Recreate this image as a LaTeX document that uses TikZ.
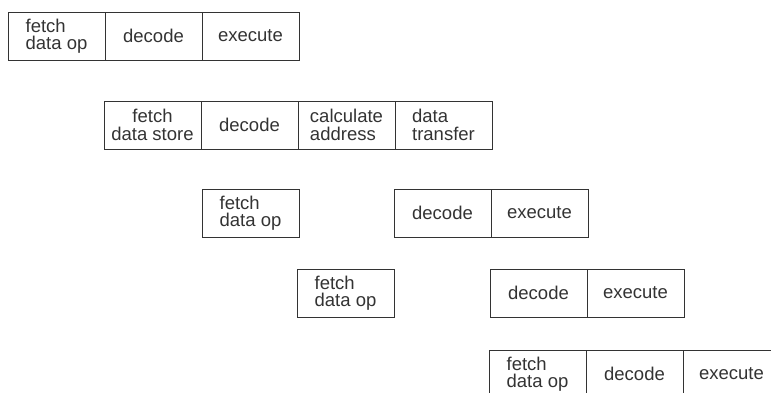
\documentclass[tikz,border=0pt]{standalone}
\usepackage{fontspec}
\setmainfont{Liberation Sans}
\usetikzlibrary{positioning}
\definecolor{inkgray}{HTML}{333333}

\begin{document}
\begin{tikzpicture}[x=1pt, y=-1pt,
                font=\fontsize{18.5}{17.5}\selectfont,
                stage/.style={rectangle, draw=inkgray, line width=0.9pt, text=inkgray,
                              minimum width=97pt, minimum height=48pt,
                              inner sep=0pt, outer sep=0pt, align=left},
                first/.style={stage, anchor=north west}
                ]

                \useasboundingbox (0,0) rectangle (771,393);
                \clip (0,0) rectangle (771,393);

                % Row 1
                \node[first] (ldr_fetch) at (8,12) {fetch\\data op};
                \node[stage] (ldr_dec) [right=0pt of ldr_fetch] {decode};
                \node[stage] (ldr_exe) [right=0pt of ldr_dec] {execute};

                % Row 2
                \node[first, align=center] (str_fetch) at (104,101) {fetch\\data store};
                \node[stage] (str_dec) [right=0pt of str_fetch] {decode};
                \node[stage] (str_addr) [right=0pt of str_dec] {calculate\\address};
                \node[stage] (str_xfer) [right=0pt of str_addr] {data\\transfer};

                % Row 3
                \node[first] (op3_fetch) at (202,189) {fetch\\data op};
                \node[first] (op3_dec) at (394,189) {decode};
                \node[stage] (op3_exe) [right=0pt of op3_dec] {execute};

                % Row 4
                \node[first] (op4_fetch) at (297,269) {fetch\\data op};
                \node[first] (op4_dec) at (490,269) {decode};
                \node[stage] (op4_exe) [right=0pt of op4_dec] {execute};

                % Row 5
                \node[first] (op5_fetch) at (489,350) {fetch\\data op};
                \node[stage] (op5_dec) [right=0pt of op5_fetch] {decode};
                \node[stage] (op5_exe) [right=0pt of op5_dec] {execute};
            \end{tikzpicture}
\end{document}
